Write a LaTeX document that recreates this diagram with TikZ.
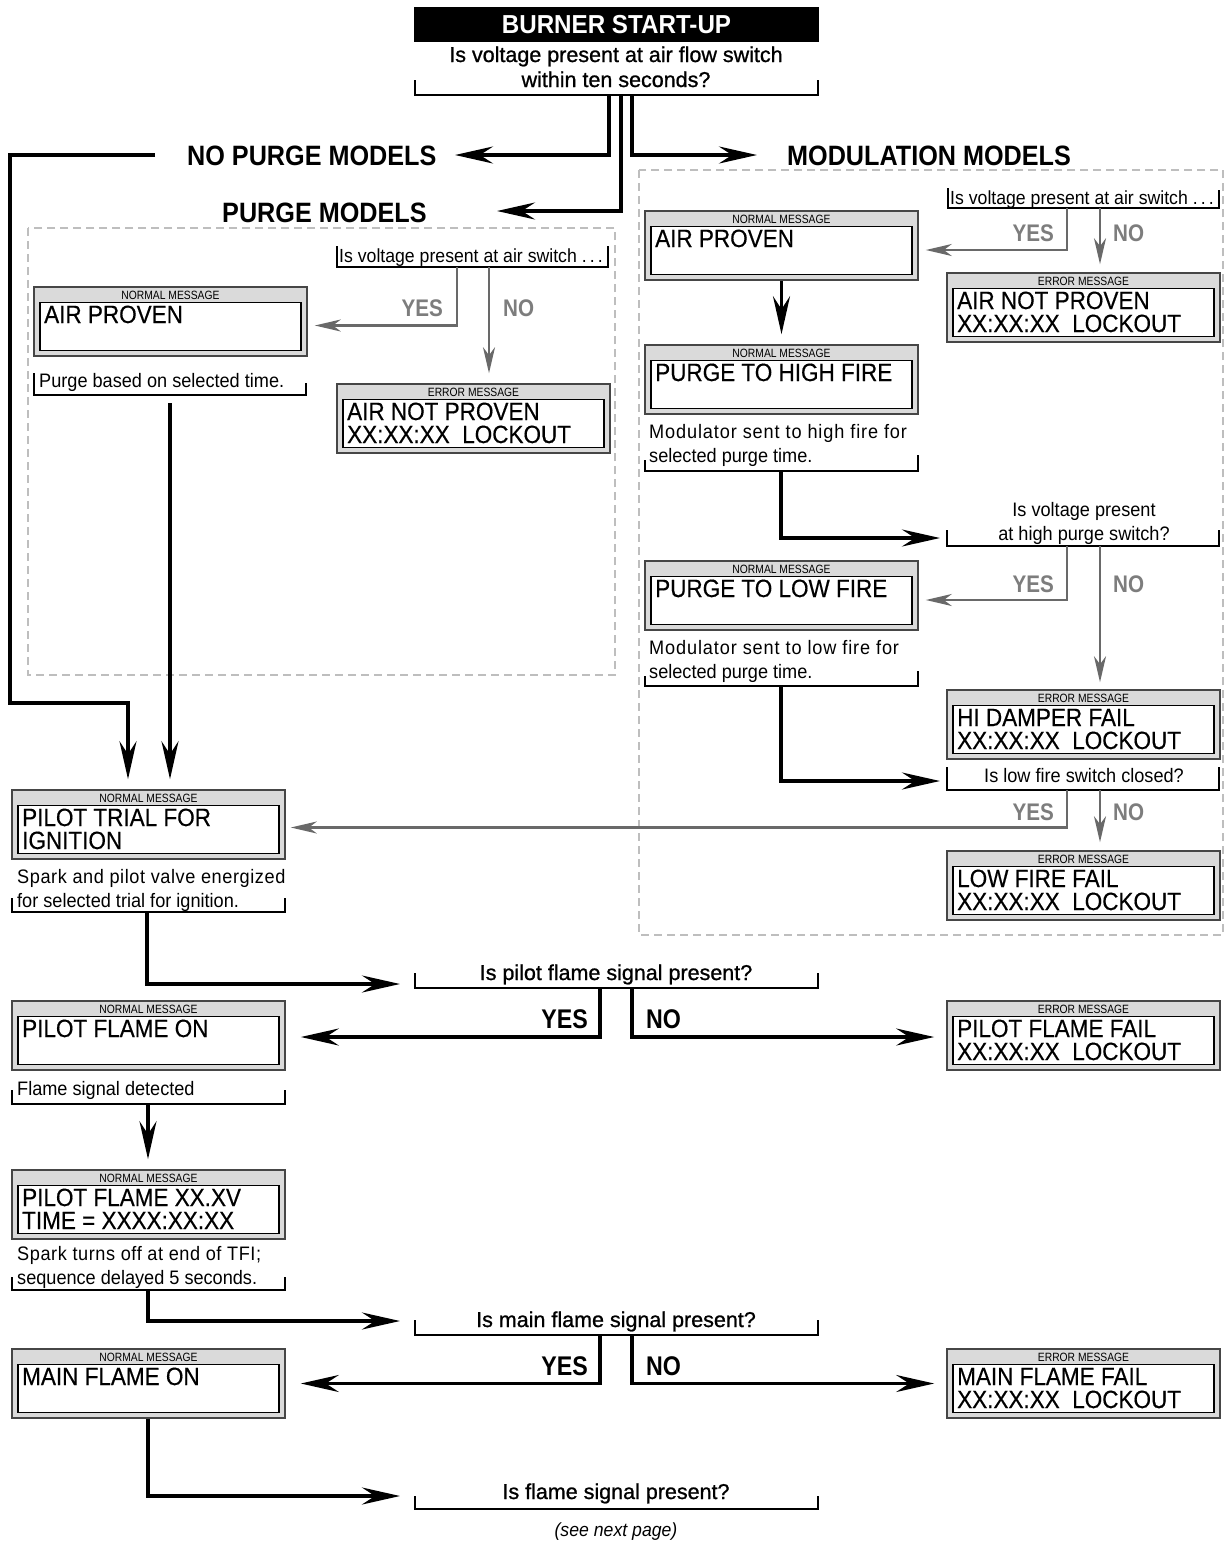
\documentclass[tikz,border=0pt]{standalone}
\usepackage{fontspec}
\setmainfont{Liberation Sans}
\newfontfamily\famN[FakeStretch=0.9]{Liberation Sans}
\newfontfamily\famT[FakeStretch=0.93]{Liberation Sans}
\newfontfamily\famB[FakeStretch=0.9,FakeBold=0.4]{Liberation Sans}
\newfontfamily\famH[FakeStretch=0.86]{Liberation Sans}
\newfontfamily\famQ[FakeBold=1.0]{Liberation Sans}
\newfontfamily\famM[FakeStretch=0.93]{Liberation Sans}
\newfontfamily\famW[FakeStretch=0.93,LetterSpace=3]{Liberation Sans}
\newfontfamily\famX[FakeStretch=0.93,LetterSpace=4.5]{Liberation Sans}
\usetikzlibrary{arrows.meta,calc}
\newcommand\fntTitle{\famT\bfseries\fontsize{26}{28}\selectfont}
\newcommand\fntHead{\famN\bfseries\fontsize{28}{30}\selectfont}
\newcommand\fntBox{\famB\fontsize{25}{23}\selectfont}
\newcommand\fntHdr{\famH\fontsize{12}{13}\selectfont}
\newcommand\fntNote{\famM\fontsize{19.5}{24}\selectfont}
\newcommand\fntNoteS{\famM\fontsize{19}{24}\selectfont}
\newcommand\fntNoteW{\famW\fontsize{19.5}{24}\selectfont}
\newcommand\fntNoteX{\famX\fontsize{19.5}{24}\selectfont}
\newcommand\fntQ{\famQ\fontsize{21.5}{25}\selectfont}
\newcommand\fntLbl{\famH\bfseries\fontsize{24}{26}\selectfont}
\newcommand\fntLblB{\famH\bfseries\fontsize{27}{30}\selectfont}
\newcommand\fntIt{\famM\itshape\fontsize{19}{22}\selectfont}
\definecolor{boxgray}{RGB}{218,218,218}
\definecolor{edgegray}{RGB}{70,70,70}
\definecolor{arrgray}{RGB}{105,105,105}
\definecolor{lblgray}{RGB}{125,125,125}
\definecolor{dashgray}{RGB}{190,190,190}
\tikzset{
  outerbox/.style={draw=edgegray, fill=boxgray, line width=1.6pt, minimum width=273pt, minimum height=69pt, inner sep=0pt},
  innerbox/.style={draw=black, fill=white, line width=1.4pt, minimum width=261pt, minimum height=48pt, inner sep=0pt},
  hdr/.style={font=\fntHdr, inner sep=0pt, anchor=base},
  boxline/.style={font=\fntBox, inner sep=0pt, anchor=base west},
  notetxt/.style={font=\fntNote, inner sep=0pt, anchor=base west},
  qnote/.style={font=\fntNoteS, inner sep=0pt, anchor=base west},
  notewide/.style={font=\fntNoteW, inner sep=0pt, anchor=base west},
  notexwide/.style={font=\fntNoteX, inner sep=0pt, anchor=base west},
  qtxt/.style={font=\fntQ, inner sep=0pt, anchor=base},
  bracket/.style={line width=1.4pt, draw=black},
  bigarrow/.style={line width=3.6pt, -{Stealth[length=38pt,width=17pt,inset=13pt]}},
  grayarrow/.style={line width=2.4pt, draw=arrgray, -{Stealth[length=26pt,width=12pt,inset=8pt]}},
  graylbl/.style={font=\fntLbl, text=lblgray, inner sep=0pt},
  blacklbl/.style={font=\fntLblB, inner sep=0pt},
  heading/.style={font=\fntHead, inner sep=0pt, anchor=base west},
  region/.style={draw=dashgray, line width=2.4pt, dash pattern=on 8pt off 5pt},
}
\newcommand\msgbox[6]{%
  \node[outerbox] (#1) at ({#2+136.5},{#3+34.5}) {};
  \node[innerbox] (#1-in) at ({#2+136.5},{#3+39.5}) {};
  \node[hdr] (#1-h) at ({#2+136.5},{#3+12}) {#4};
  \node[boxline] (#1-a) at ({#2+10},{#3+36}) {#5};
  \if\relax\detokenize{#6}\relax\else
  \node[boxline] (#1-b) at ({#2+10},{#3+59}) {#6};
  \fi
}
\begin{document}
\begin{tikzpicture}[x=1pt,y=-1pt]
\useasboundingbox[fill=white] (0,0) rectangle (1225,1543);

% dashed regions
\draw[region] (28,228) rectangle (615,675);
\draw[region] (639,170) rectangle (1223,935);

% title
\node[fill=black, minimum width=405pt, minimum height=35pt, inner sep=0pt, text=white, font=\fntTitle] (title) at (616.5,24.5) {BURNER START-UP};
\node[qtxt] (q0a) at (616,62) {Is voltage present at air flow switch};
\node[qtxt] (q0b) at (616,87) {within ten seconds?};
\draw[bracket] (415,80) -- (415,95) -- (818,95) -- (818,80);
\coordinate (q0L) at (609,95);
\coordinate (q0M) at (621,95);
\coordinate (q0R) at (632,95);

% headings
\node[heading] (npm) at (187,165) {NO PURGE MODELS};
\node[heading] (pm) at (222,222) {PURGE MODELS};
\node[heading] (mm) at (787,165) {MODULATION MODELS};
\coordinate (npmTip) at (455,155);
\coordinate (pmTip) at (497,211);
\coordinate (mmTip) at (757,155);
\draw[bigarrow] (q0L) |- (npmTip);
\draw[bigarrow] (q0M) |- (pmTip);
\draw[bigarrow] (q0R) |- (mmTip);

% ---------- purge models ----------
\draw[bracket] (337,246) -- (337,267) -- (608,267) -- (608,246);
\node[qnote] (pq) at (339,262) {Is voltage present at air switch\ .\,.\,.};
\coordinate (pqY) at (457,267);
\coordinate (pqN) at (489,267);
\msgbox{pap}{34}{287}{NORMAL MESSAGE}{AIR PROVEN}{}
\msgbox{pan}{337}{384}{ERROR MESSAGE}{AIR NOT PROVEN}{XX:XX:XX\ \ LOCKOUT}
\draw[grayarrow] (pqY) |- ([xshift=7pt,yshift=-4pt]pap.east);
\draw[grayarrow] (pqN) -- ([yshift=10pt]pqN |- pan.north);
\node[graylbl, anchor=base east] (pqYl) at (443,316) {YES};
\node[graylbl, anchor=base west] (pqNl) at (503,316) {NO};
\node[notetxt] (pn) at (39,387) {Purge based on selected time.};
\draw[bracket] (34,373) -- (34,395) -- (306,395) -- (306,383);
\coordinate (pnOut) at (170,403);

% ---------- modulation models ----------
\draw[bracket] (948,188) -- (948,208) -- (1219,208) -- (1219,190);
\node[qnote] (mq) at (950,204) {Is voltage present at air switch\ .\,.\,.};
\coordinate (mqY) at (1067,208);
\coordinate (mqN) at (1100,208);
\msgbox{map}{645}{211}{NORMAL MESSAGE}{AIR PROVEN}{}
\msgbox{man}{947}{273}{ERROR MESSAGE}{AIR NOT PROVEN}{XX:XX:XX\ \ LOCKOUT}
\draw[grayarrow] (mqY) |- ([xshift=7pt,yshift=-4.5pt]map.east);
\draw[grayarrow] (mqN) -- ([yshift=8pt]mqN |- man.north);
\node[graylbl, anchor=base east] (mqYl) at (1054,241) {YES};
\node[graylbl, anchor=base west] (mqNl) at (1113,241) {NO};

\msgbox{mhf}{645}{345}{NORMAL MESSAGE}{PURGE TO HIGH FIRE}{}
\draw[bigarrow] (map.south) -- ([yshift=10pt]mhf.north);
\node[notexwide] (mhn1) at (649,438) {Modulator sent to high fire for};
\node[notetxt] (mhn2) at (649,462) {selected purge time.};
\draw[bracket] (645,460) -- (645,471) -- (918,471) -- (918,455);
\coordinate (mhnOut) at (781,471);
\coordinate (hqIn) at (940,538);
\draw[bigarrow] (mhnOut) |- (hqIn);

\node[notetxt, anchor=base] (hq1) at (1084,516) {Is voltage present};
\node[notetxt, anchor=base] (hq2) at (1084,540) {at high purge switch?};
\draw[bracket] (947,530) -- (947,546) -- (1219,546) -- (1219,530);
\coordinate (hqY) at (1067,546);
\coordinate (hqN) at (1100,546);
\msgbox{mlf}{645}{561}{NORMAL MESSAGE}{PURGE TO LOW FIRE}{}
\msgbox{hdf}{947}{690}{ERROR MESSAGE}{HI DAMPER FAIL}{XX:XX:XX\ \ LOCKOUT}
\draw[grayarrow] (hqY) |- ([xshift=7pt,yshift=-4.5pt]mlf.east);
\draw[grayarrow] (hqN) -- ([yshift=7pt]hqN |- hdf.north);
\node[graylbl, anchor=base east] (hqYl) at (1054,592) {YES};
\node[graylbl, anchor=base west] (hqNl) at (1113,592) {NO};

\node[notexwide] (mln1) at (649,654) {Modulator sent to low fire for};
\node[notetxt] (mln2) at (649,678) {selected purge time.};
\draw[bracket] (645,676) -- (645,686) -- (918,686) -- (918,671);
\coordinate (mlnOut) at (781,686);
\coordinate (lqIn) at (940,781);
\draw[bigarrow] (mlnOut) |- (lqIn);

\node[notetxt, anchor=base] (lq) at (1084,782) {Is low fire switch closed?};
\draw[bracket] (947,767) -- (947,790) -- (1219,790) -- (1219,767);
\coordinate (lqY) at (1067,790);
\coordinate (lqN) at (1100,790);
\msgbox{lff}{947}{851}{ERROR MESSAGE}{LOW FIRE FAIL}{XX:XX:XX\ \ LOCKOUT}
\node[graylbl, anchor=base east] (lqYl) at (1054,820) {YES};
\node[graylbl, anchor=base west] (lqNl) at (1113,820) {NO};

% ---------- main column ----------
\msgbox{pt}{12}{790}{NORMAL MESSAGE}{PILOT TRIAL FOR}{IGNITION}
\draw[grayarrow] (lqY) |- ([xshift=5pt,yshift=-3pt]pt.east);
\draw[grayarrow] (lqN) -- ([yshift=8pt]lqN |- lff.north);

\coordinate (npmOut) at (155,155);
\coordinate (leftBend) at (10,703);
\draw[bigarrow] (npmOut) -| (leftBend) -| ([xshift=-20.5pt,yshift=10pt]pt.north);
\draw[bigarrow] (pnOut) -- ([xshift=21.5pt,yshift=10pt]pt.north);

\node[notewide] (ptn1) at (17,883) {Spark and pilot valve energized};
\node[notetxt] (ptn2) at (17,907) {for selected trial for ignition.};
\draw[bracket] (12,898) -- (12,912) -- (285,912) -- (285,898);
\coordinate (ptnOut) at (147,912);
\coordinate (fq1In) at (400,984);
\draw[bigarrow] (ptnOut) |- (fq1In);

\node[qtxt] (fq1) at (616,980) {Is pilot flame signal present?};
\draw[bracket] (415,973) -- (415,988) -- (818,988) -- (818,973);
\coordinate (f1Y) at (600,988);
\coordinate (f1N) at (632,988);
\msgbox{pfo}{12}{1001}{NORMAL MESSAGE}{PILOT FLAME ON}{}
\msgbox{pff}{947}{1001}{ERROR MESSAGE}{PILOT FLAME FAIL}{XX:XX:XX\ \ LOCKOUT}
\draw[bigarrow] (f1Y) |- ([xshift=15pt,yshift=-1.5pt]pfo.east);
\draw[bigarrow] (f1N) |- ([xshift=-12pt,yshift=-1.5pt]pff.west);
\node[blacklbl, anchor=base east] (f1Yl) at (588,1028) {YES};
\node[blacklbl, anchor=base west] (f1Nl) at (646,1028) {NO};

\node[notetxt] (pfon) at (17,1095) {Flame signal detected};
\draw[bracket] (12,1090) -- (12,1104) -- (285,1104) -- (285,1090);
\coordinate (pfoOut) at (148,1104);
\msgbox{pfx}{12}{1170}{NORMAL MESSAGE}{PILOT FLAME XX.XV}{TIME = XXXX:XX:XX}
\draw[bigarrow] (pfoOut) -- ([yshift=10pt]pfoOut |- pfx.north);

\node[notewide] (pfxn1) at (17,1260) {Spark turns off at end of TFI;};
\node[notetxt] (pfxn2) at (17,1284) {sequence delayed 5 seconds.};
\draw[bracket] (12,1277) -- (12,1290) -- (285,1290) -- (285,1277);
\coordinate (pfxOut) at (148,1290);
\coordinate (fq2In) at (400,1321);
\draw[bigarrow] (pfxOut) |- (fq2In);

\node[qtxt] (fq2) at (616,1327) {Is main flame signal present?};
\draw[bracket] (415,1320) -- (415,1335) -- (818,1335) -- (818,1320);
\coordinate (f2Y) at (600,1335);
\coordinate (f2N) at (632,1335);
\msgbox{mfo}{12}{1349}{NORMAL MESSAGE}{MAIN FLAME ON}{}
\msgbox{mff}{947}{1349}{ERROR MESSAGE}{MAIN FLAME FAIL}{XX:XX:XX\ \ LOCKOUT}
\draw[bigarrow] (f2Y) |- ([xshift=15pt]mfo.east);
\draw[bigarrow] (f2N) |- ([xshift=-12pt]mff.west);
\node[blacklbl, anchor=base east] (f2Yl) at (588,1375) {YES};
\node[blacklbl, anchor=base west] (f2Nl) at (646,1375) {NO};

\coordinate (fq3In) at (400,1496);
\draw[bigarrow] ([xshift=-0.5pt]mfo.south) |- (fq3In);
\node[qtxt] (fq3) at (616,1499) {Is flame signal present?};
\draw[bracket] (415,1496) -- (415,1509) -- (818,1509) -- (818,1496);
\node[font=\fntIt, inner sep=0pt, anchor=base] (seenext) at (616,1536) {(see next page)};
\end{tikzpicture}
\end{document}
